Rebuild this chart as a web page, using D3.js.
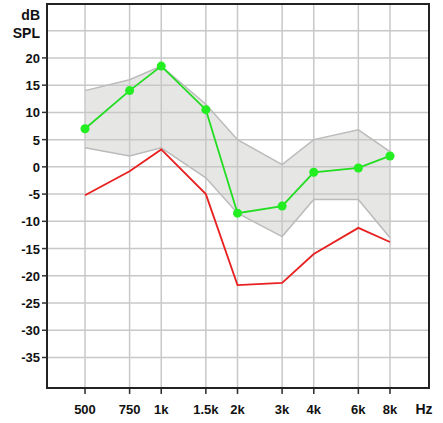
<!DOCTYPE html><html><head><meta charset="utf-8"><script src="https://cdn.jsdelivr.net/npm/d3@7"></script>
<style>body{margin:0;background:#fff}</style></head><body><svg id="c" width="443" height="423"></svg><script>
const freqs=[500,750,1000,1500,2000,3000,4000,6000,8000];
const freqLabels=["500","750","1k","1.5k","2k","3k","4k","6k","8k"];
const yTicks=[20,15,10,5,0,-5,-10,-15,-20,-25,-30,-35];
const greenVals=[7,14,18.5,10.5,-8.5,-7.2,-1,-0.2,2];
const redVals=[-5.2,-0.8,3.2,-5,-21.7,-21.3,-16,-11.2,-13.8];
const bandUpper=[14,16,18.5,11.5,5,0.4,5,6.8,2.8];
const bandLower=[3.5,2,3.5,-2,-8.5,-12.8,-6,-6,-13];
const svg=d3.select("#c");
const L=47,R=429,T=4,B=388;
const x=d3.scaleLog().base(2).domain([500,8000]).range([85,390]);
const y=d3.scaleLinear().domain([-40.6,29.9]).range([B,T]);
const g=svg.append("g");
const band=freqs.map((f,i)=>({f,u:bandUpper[i],l:bandLower[i]}));
g.append("path").datum(band).attr("d",d3.area().x(d=>x(d.f)).y0(d=>y(d.l)).y1(d=>y(d.u))).attr("fill","#e6e6e4").attr("stroke","none");
[25,...yTicks].forEach(v=>g.append("line").attr("x1",L).attr("x2",R).attr("y1",y(v)).attr("y2",y(v)).attr("stroke","#c8c8c8").attr("stroke-width",1.5));
freqs.forEach(f=>g.append("line").attr("x1",x(f)).attr("x2",x(f)).attr("y1",T).attr("y2",B+5).attr("stroke","#c8c8c8").attr("stroke-width",1.5));
freqs.forEach(f=>g.append("line").attr("x1",x(f)).attr("x2",x(f)).attr("y1",B).attr("y2",B+6).attr("stroke","#333").attr("stroke-width",1.5));
g.append("path").datum(band).attr("d",d3.line().x(d=>x(d.f)).y(d=>y(d.u))).attr("fill","none").attr("stroke","#bbb").attr("stroke-width",1.5);
g.append("path").datum(band).attr("d",d3.line().x(d=>x(d.f)).y(d=>y(d.l))).attr("fill","none").attr("stroke","#bbb").attr("stroke-width",1.5);
const line=d3.line().x((d,i)=>x(freqs[i])).y(d=>y(d));
g.append("path").datum(redVals).attr("d",line).attr("fill","none").attr("stroke","#e82020").attr("stroke-width",1.8);
g.append("path").datum(greenVals).attr("d",line).attr("fill","none").attr("stroke","#22dd22").attr("stroke-width",1.8);
g.selectAll("circle").data(greenVals).join("circle").attr("cx",(d,i)=>x(freqs[i])).attr("cy",d=>y(d)).attr("r",4.5).attr("fill","#22ee22");
g.append("rect").attr("x",L).attr("y",T).attr("width",R-L).attr("height",B-T).attr("fill","none").attr("stroke","#222").attr("stroke-width",2);
const fs="font-family:Liberation Sans,Arial;font-weight:bold;font-size:13px;fill:#111";
yTicks.forEach(v=>{g.append("line").attr("x1",L-5).attr("x2",L).attr("y1",y(v)).attr("y2",y(v)).attr("stroke","#333").attr("stroke-width",1.5);
g.append("text").attr("x",L-7).attr("y",y(v)+5).attr("text-anchor","end").attr("style",fs).text(v);});
g.append("text").attr("x",L-7).attr("y",20).attr("text-anchor","end").attr("style",fs+";font-size:14px").text("dB");
g.append("text").attr("x",L-7).attr("y",38).attr("text-anchor","end").attr("style",fs+";font-size:14px").text("SPL");
freqs.forEach((f,i)=>g.append("text").attr("x",x(f)).attr("y",414).attr("text-anchor","middle").attr("style",fs).text(freqLabels[i]));
g.append("text").attr("x",424).attr("y",414).attr("text-anchor","middle").attr("style",fs+";font-size:14px").text("Hz");
</script></body></html>
